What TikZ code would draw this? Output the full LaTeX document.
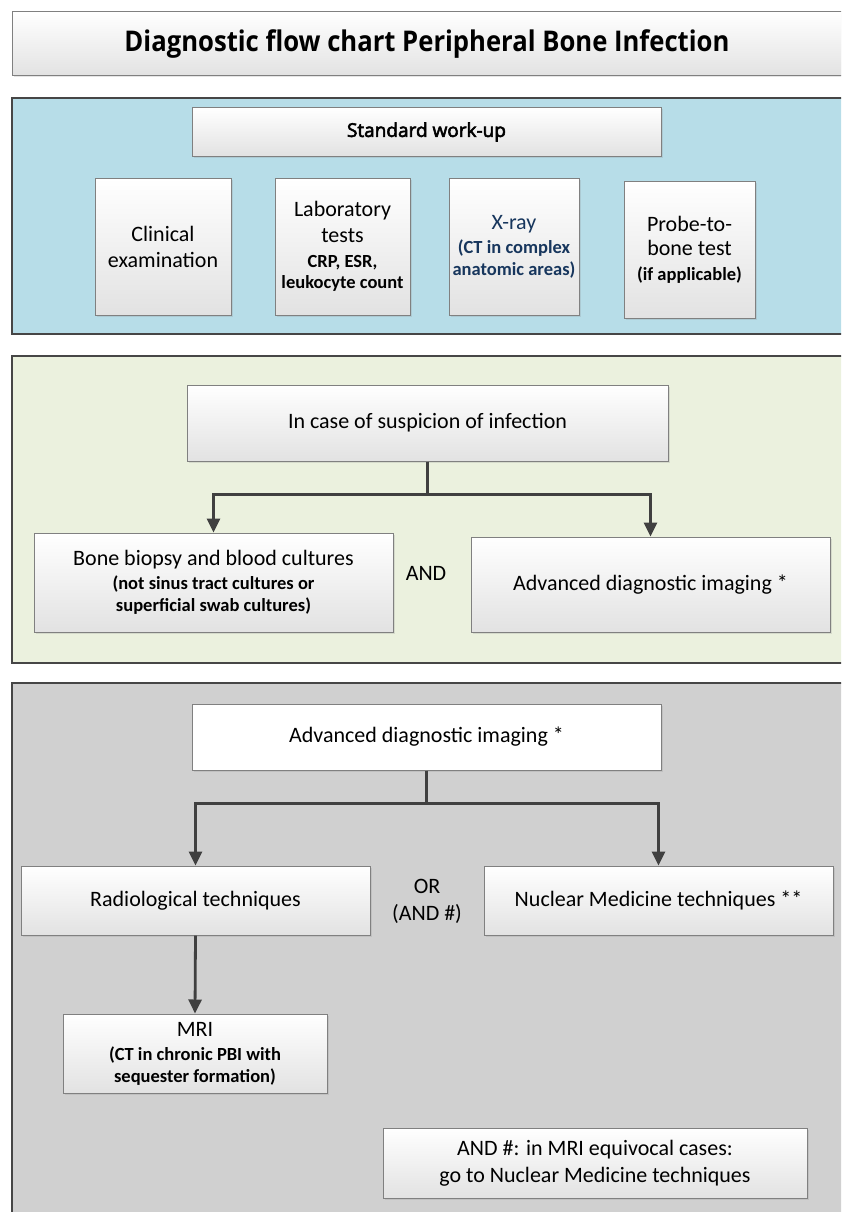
\documentclass[tikz,border=0pt]{standalone}
\usepackage{fontspec}
\setmainfont{Carlito}
\newfontfamily\titlefont{Open Sans}[FakeStretch=0.9]
\newfontfamily\stdfont{Open Sans}[FakeBold=3]
\usetikzlibrary{arrows.meta,shadows}
\definecolor{panelblue}{RGB}{183,221,232}
\definecolor{panelgreen}{RGB}{235,241,222}
\definecolor{panelgray}{RGB}{208,208,208}
\definecolor{panelline}{RGB}{70,70,70}
\definecolor{boxline}{RGB}{128,128,128}
\definecolor{boxbot}{RGB}{226,226,226}
\definecolor{navytext}{RGB}{23,54,93}
\definecolor{arrowcol}{RGB}{64,64,64}
\newcommand\SmallBold{\bfseries\fontsize{18.5}{22}\selectfont}
\begin{document}
\begin{tikzpicture}[x=1pt,y=-1pt,
  box/.style={draw=boxline, line width=1pt, top color=white, bottom color=boxbot,
    align=center, inner sep=0pt, font=\fontsize{22}{26}\selectfont,
    drop shadow={shadow xshift=1.5pt, shadow yshift=-1.5pt, opacity=0.2}},
  whitebox/.style={box, top color=white, bottom color=white},
  panel/.style={draw=panelline, line width=1.3pt},
  lbl/.style={align=center, inner sep=0pt, font=\fontsize{22}{26}\selectfont},
  conn/.style={draw=arrowcol, line width=2.8pt, -{Triangle[width=13pt,length=14pt]}}]
\useasboundingbox (0,0) rectangle (841,1212);
\clip (0,0) rectangle (841,1212);
\fill[white] (0,0) rectangle (841,1212);

% title
\node[box, minimum width=830, minimum height=64, font=\titlefont\bfseries\fontsize{28.5}{34}\selectfont] (title) at (427,44) {Diagnostic flow chart Peripheral Bone Infection};

% panels
\path[panel, fill=panelblue] (12,98) rectangle (845,334);
\path[panel, fill=panelgreen] (12,356) rectangle (845,663);
\path[panel, fill=panelgray] (12,683) rectangle (845,1225);

% standard work-up
\node[box, minimum width=469, minimum height=48, font=\stdfont\fontsize{19}{23}\selectfont] (std) at (426.5,132) {Standard work-up};
\node[box, minimum width=136, minimum height=137] (clin) at (163,246.5) {Clinical\\examination};
\node[box, minimum width=135, minimum height=137] (lab) at (342.5,246.5) {Laboratory\\tests\\[-1pt]{\SmallBold CRP, ESR,}\\[-5pt]{\SmallBold leukocyte count}};
\node[box, minimum width=130, minimum height=137, text=navytext] (xray) at (514,246.5) {X-ray\\[-2pt]{\SmallBold (CT in complex}\\[-4pt]{\SmallBold anatomic areas)}};
\node[box, minimum width=131, minimum height=137] (probe) at (689.5,249.5) {Probe-to-\\[-2pt]bone test\\[-1pt]{\SmallBold (if applicable)}};

% suspicion
\node[box, minimum width=481, minimum height=76] (susp) at (427.5,423) {In case of suspicion of infection};
\node[box, minimum width=359, minimum height=99] (bone) at (213.5,582.5) {Bone biopsy and blood cultures\\[-2pt]{\SmallBold (not sinus tract cultures or}\\[-4pt]{\SmallBold superficial swab cultures)}};
\node[box, minimum width=359, minimum height=95] (adva) at (650.5,584.5) {Advanced diagnostic imaging *};
\node[lbl] (andlbl) at (426,573) {AND};
\draw[conn] (susp.south) -- ++(0,33) -| (bone.north);
\draw[conn] (susp.south) -- ++(0,33) -| (adva.north);

% advanced imaging
\node[whitebox, minimum width=469, minimum height=66] (advb) at (426.5,737) {Advanced diagnostic imaging *};
\node[box, minimum width=349, minimum height=69] (radio) at (195.5,900.5) {Radiological techniques};
\node[box, minimum width=349, minimum height=69] (nuc) at (658.5,900.5) {Nuclear Medicine techniques **};
\node[lbl] (orlbl) at (427,901) {OR\\[1pt](AND \#)};
\node[box, minimum width=264, minimum height=79] (mri) at (195,1053.5) {MRI\\[-2pt]{\SmallBold (CT in chronic PBI with}\\[-4pt]{\SmallBold sequester formation)}};
\node[box, minimum width=424, minimum height=70] (note) at (595,1163) {AND \#: in MRI equivocal cases:\\[1pt]go to Nuclear Medicine techniques};
\draw[conn] (advb.south) -- ++(0,33) -| (radio.north);
\draw[conn] (advb.south) -- ++(0,33) -| (nuc.north);
\draw[conn] (radio.south) -- (mri.north);
\end{tikzpicture}
\end{document}
